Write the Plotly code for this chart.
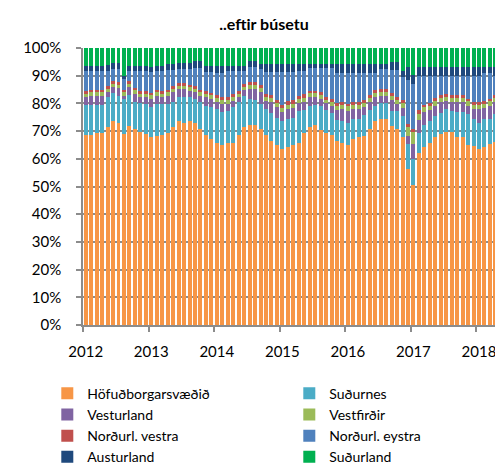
import plotly.graph_objects as go

# months from Jan 2012 (index 0) onward, as visible in the chart
manudir = list(range(77))
ar_merki = ["2012", "2013", "2014", "2015", "2016", "2017", "2018"]
ar_stadir = [0, 12, 24, 36, 48, 60, 72]

# share (%) per region, one value per month
hofudborgarsvaedid = [68.7, 68.7, 69.2, 69.2, 71.4, 73.6, 72.9, 68.9, 72.0, 70.8, 69.6, 69.0,
                      67.7, 68.3, 68.7, 69.2, 71.4, 73.6, 72.9, 73.6, 72.9, 70.8, 68.7, 67.2,
                      65.6, 65.1, 65.7, 65.7, 68.7, 71.4, 72.3, 72.3, 70.8, 68.7, 66.3, 65.0,
                      63.5, 64.1, 65.0, 65.6, 69.2, 71.4, 72.3, 70.4, 69.2, 68.6, 66.6, 65.6,
                      65.0, 67.2, 67.7, 68.3, 70.8, 73.6, 74.3, 74.3, 72.0, 70.8, 67.7, 56.3,
                      50.6, 62.1, 64.1, 65.6, 67.7, 69.0, 69.6, 69.6, 67.7, 67.7, 65.0, 64.8,
                      63.5, 64.1, 65.3, 66.0, 69.2]
sudurnes = [10.7, 10.7, 10.2, 10.2, 10.8, 10.0, 9.9, 12.7, 11.2, 9.6, 10.4, 10.8,
            10.9, 11.5, 11.1, 10.6, 9.0, 8.6, 9.3, 8.6, 8.7, 9.6, 10.5, 11.4,
            12.4, 11.7, 11.7, 13.1, 11.7, 11.4, 9.3, 8.9, 9.0, 9.3, 10.1, 9.9,
            10.2, 10.2, 9.9, 11.5, 8.4, 7.8, 7.1, 8.8, 8.4, 7.8, 7.4, 8.0,
            8.1, 7.3, 6.8, 7.4, 6.9, 5.6, 5.7, 5.7, 5.4, 6.6, 7.9, 9.0,
            9.4, 7.3, 8.2, 7.9, 7.9, 7.5, 8.4, 7.8, 9.1, 9.1, 11.1, 9.5,
            9.6, 10.2, 9.0, 10.1, 8.4]
vesturland = [2.8, 3.4, 3.4, 3.4, 1.8, 2.2, 2.6, 1.2, 2.6, 3.0, 2.2, 2.4,
              3.0, 3.0, 2.4, 3.0, 3.6, 2.9, 2.9, 2.4, 2.4, 2.4, 3.0, 3.0,
              2.4, 3.0, 2.4, 2.2, 1.8, 2.0, 3.7, 4.1, 4.4, 2.8, 4.0, 3.7,
              3.1, 3.7, 3.5, 2.9, 3.0, 3.0, 2.8, 2.4, 2.4, 2.8, 3.6, 4.4,
              4.3, 3.5, 3.5, 3.1, 2.7, 3.0, 2.8, 2.8, 3.8, 2.4, 2.8, 3.1,
              5.5, 4.6, 4.5, 4.1, 3.6, 3.9, 2.8, 3.0, 3.6, 3.6, 3.1, 3.7,
              4.9, 4.1, 4.9, 4.3, 4.0]
vestfirdir = [1.3, 1.3, 1.3, 1.3, 1.3, 1.3, 1.3, 1.3, 1.3, 1.3, 1.3, 1.3,
              1.3, 1.3, 1.3, 1.3, 1.3, 1.3, 1.3, 1.3, 1.3, 1.3, 1.3, 1.3,
              1.4, 1.4, 1.4, 1.3, 1.3, 1.3, 1.3, 1.3, 1.3, 1.5, 1.5, 1.5,
              1.5, 1.5, 1.5, 1.5, 1.5, 1.4, 1.4, 1.4, 1.4, 1.4, 1.5, 1.5,
              1.5, 1.5, 1.5, 1.5, 1.5, 1.5, 1.4, 1.4, 1.5, 1.5, 1.6, 3.2,
              4.3, 2.2, 1.8, 1.6, 1.6, 1.5, 1.5, 1.5, 1.5, 1.5, 1.5, 1.5,
              1.5, 1.5, 1.5, 1.5, 1.5]
nordurl_vestra = [0.9, 0.9, 0.9, 0.9, 0.9, 0.9, 0.9, 0.9, 0.9, 0.9, 0.9, 0.9,
                  0.9, 0.9, 0.9, 0.9, 0.9, 0.9, 0.9, 0.9, 0.9, 0.9, 0.9, 0.9,
                  1.2, 1.2, 1.2, 1.0, 0.9, 0.9, 1.2, 1.2, 1.2, 1.2, 1.2, 1.2,
                  1.2, 1.2, 1.2, 1.2, 1.2, 1.0, 1.0, 1.0, 1.0, 1.0, 1.0, 1.0,
                  1.0, 1.0, 1.0, 1.0, 1.0, 1.0, 0.9, 0.9, 1.0, 1.0, 1.2, 1.0,
                  0.8, 1.4, 1.0, 1.0, 1.0, 1.0, 1.0, 1.0, 1.0, 1.0, 1.0, 1.0,
                  1.0, 1.0, 1.0, 1.0, 1.0]
nordurl_eystra = [7.4, 6.8, 6.8, 6.8, 5.6, 4.5, 4.9, 3.8, 3.8, 6.2, 7.4, 7.4,
                  7.7, 6.8, 7.4, 7.1, 5.9, 5.2, 5.2, 5.7, 6.6, 7.8, 7.1, 7.7,
                  7.9, 8.5, 9.4, 8.5, 7.4, 4.8, 5.5, 5.5, 5.8, 7.7, 8.1, 9.9,
                  11.7, 10.5, 10.1, 9.1, 8.5, 8.3, 8.3, 8.9, 10.5, 11.3, 10.9, 10.5,
                  11.1, 10.5, 10.5, 9.7, 8.1, 6.3, 7.5, 7.5, 8.5, 9.9, 8.2, 15.8,
                  16.4, 12.4, 10.4, 9.8, 8.2, 7.1, 6.7, 7.1, 7.1, 7.1, 8.3, 9.5,
                  9.5, 10.0, 9.2, 7.1, 5.9]
austurland = [1.8, 1.8, 1.8, 1.8, 2.2, 2.0, 2.0, 1.2, 1.8, 1.8, 1.8, 1.8,
              1.7, 1.8, 1.8, 2.1, 2.1, 2.1, 2.1, 2.1, 2.4, 2.4, 2.1, 2.1,
              2.5, 2.5, 1.8, 1.8, 1.8, 1.8, 1.9, 1.9, 1.9, 3.0, 3.0, 3.0,
              3.0, 3.0, 3.0, 2.6, 2.6, 1.5, 1.5, 1.5, 1.5, 1.5, 3.4, 3.4,
              3.4, 3.4, 3.4, 3.4, 3.4, 3.4, 1.6, 1.6, 2.6, 2.6, 2.4, 4.6,
              3.3, 3.0, 3.0, 3.0, 3.0, 3.0, 3.0, 3.0, 3.0, 3.0, 3.0, 3.0,
              3.0, 2.3, 2.3, 3.0, 3.0]
sudurland = [6.4, 6.4, 6.4, 6.4, 6.0, 5.5, 5.5, 10.0, 6.4, 6.4, 6.4, 6.4,
             6.8, 6.4, 6.4, 5.8, 5.8, 5.4, 5.4, 5.4, 4.8, 4.8, 6.4, 6.4,
             6.6, 6.6, 6.4, 6.4, 6.4, 6.4, 4.8, 4.8, 5.6, 5.8, 5.8, 5.8,
             5.8, 5.8, 5.8, 5.6, 5.6, 5.6, 5.6, 5.6, 5.6, 5.6, 5.6, 5.6,
             5.6, 5.6, 5.6, 5.6, 5.6, 5.6, 5.8, 5.8, 5.2, 5.2, 8.2, 7.0,
             9.7, 7.0, 7.0, 7.0, 7.0, 7.0, 7.0, 7.0, 7.0, 7.0, 7.0, 7.0,
             7.0, 6.8, 6.8, 7.0, 7.0]

svaedi = [
    ("Höfuðborgarsvæðið", hofudborgarsvaedid, "#F79646"),
    ("Suðurnes", sudurnes, "#4BACC6"),
    ("Vesturland", vesturland, "#8064A2"),
    ("Vestfirðir", vestfirdir, "#9BBB59"),
    ("Norðurl. vestra", nordurl_vestra, "#C0504D"),
    ("Norðurl. eystra", nordurl_eystra, "#4F81BD"),
    ("Austurland", austurland, "#1F497D"),
    ("Suðurland", sudurland, "#00B050"),
]

fig = go.Figure()
for nafn, gildi, litur in svaedi:
    fig.add_trace(go.Bar(x=manudir, y=gildi, name=nafn, marker_color=litur,
                         marker_line_width=0))

grar = "#8c8c8c"
# page body has an 8px margin, so the figure is 8px smaller than the window
fig.update_layout(
    width=495, height=460,
    barmode="stack", barnorm="percent", bargap=0.27,
    plot_bgcolor="white", paper_bgcolor="white",
    font=dict(family="Lato", size=15, color="#000000"),
    margin=dict(l=75, r=0, t=40, b=143, autoexpand=False),
    title=dict(text="<b>..eftir búsetu</b>", x=0.517, xanchor="center",
               y=0.965, yanchor="middle", font=dict(size=16)),
    legend=dict(orientation="h", x=-0.085, xanchor="left", y=-0.19, yanchor="top",
                entrywidth=197, entrywidthmode="pixels", traceorder="normal",
                itemwidth=30, tracegroupgap=0, font=dict(size=14)),
    xaxis=dict(range=[-0.5, 76.4], tickmode="array", tickvals=ar_stadir,
               ticktext=ar_merki, ticks="", showgrid=False, zeroline=False,
               showline=True, linecolor=grar, linewidth=1.5, ticklabelstandoff=12,
               minor=dict(tickmode="array", tickvals=[v - 0.5 for v in ar_stadir],
                          ticks="outside", ticklen=5, tickwidth=1.5, tickcolor=grar,
                          showgrid=False)),
    yaxis=dict(range=[0, 100], dtick=10, ticksuffix="%", showgrid=True,
               gridcolor=grar, gridwidth=1.5, zeroline=False, showline=True,
               linecolor=grar, linewidth=1.5, ticks="outside", ticklen=5,
               tickwidth=1.5, tickcolor=grar, ticklabelstandoff=12),
)

fig.write_html("out.html")
